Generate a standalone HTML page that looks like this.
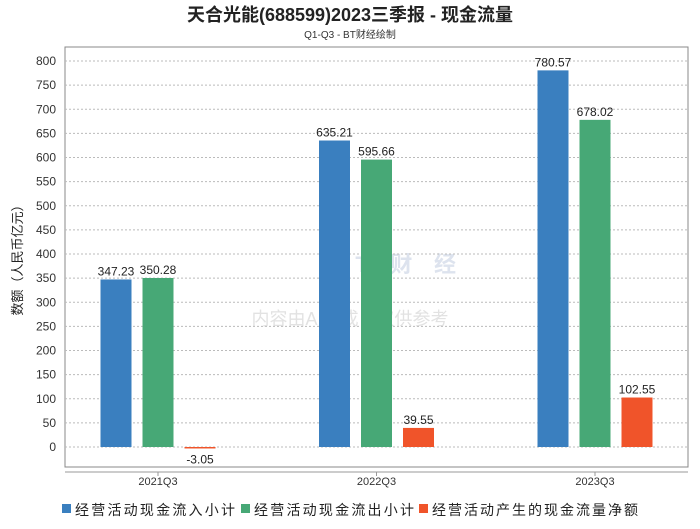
<!DOCTYPE html>
<html><head><meta charset="utf-8"><style>
body{margin:0;background:#fff;font-family:"Liberation Sans","Noto Sans CJK SC",sans-serif}
svg text{font-family:"Liberation Sans","Noto Sans CJK SC",sans-serif}
</style></head><body>
<svg id="c" width="700" height="524">
<text x="350" y="21" font-size="18" font-weight="bold" text-anchor="middle" fill="#222">天合光能(688599)2023三季报 - 现金流量</text>
<text x="350" y="38" font-size="10" text-anchor="middle" fill="#333">Q1-Q3 - BT财经绘制</text>
<text x="318" y="272" font-size="22" font-weight="bold" fill="#dde3ee" textLength="138">BT财经</text>
<text x="350" y="325" font-size="18" text-anchor="middle" fill="#e2e2e2">内容由AI生成，仅供参考</text>
<rect x="65" y="47" width="623" height="420" fill="none" stroke="#888"/>
<line x1="65" y1="472" x2="688" y2="472" stroke="#999"/>
<text transform="translate(22,257) rotate(-90)" font-size="13" text-anchor="middle" fill="#222">数额（人民币亿元）</text>
<g id="grid"></g><g id="bars"></g>
<g font-size="14" fill="#222">
<rect x="62" y="504" width="9" height="9" fill="#3a7fbf"/>
<text x="75" y="515" textLength="160">经营活动现金流入小计</text>
<rect x="241" y="504" width="9" height="9" fill="#47a876"/>
<text x="254" y="515" textLength="160">经营活动现金流出小计</text>
<rect x="419" y="504" width="9" height="9" fill="#f0542a"/>
<text x="432" y="515" textLength="206">经营活动产生的现金流量净额</text>
</g>
</svg>
<script>
const categories=["2021Q3","2022Q3","2023Q3"];
const inflow=[347.23,635.21,780.57];
const outflow=[350.28,595.66,678.02];
const net=[-3.05,39.55,102.55];
const yTicks=[0,50,100,150,200,250,300,350,400,450,500,550,600,650,700,750,800];
const NS="http://www.w3.org/2000/svg";
const y=v=>447-v*(386/800);
const xc=i=>158+i*218.5;
function mk(t,a,p){const e=document.createElementNS(NS,t);for(const k in a)e.setAttribute(k,a[k]);p.appendChild(e);return e;}
const g=document.getElementById('grid'),b=document.getElementById('bars');
yTicks.forEach(t=>{
 const l=mk('line',{x1:65,x2:688,y1:y(t),y2:y(t),stroke:'#bbb','stroke-dasharray':'2,2'},g);
 
 
 const tx=mk('text',{x:56,y:y(t)+4,'font-size':12,'text-anchor':'end',fill:'#333'},g);
 tx.textContent=t;
 
 
});
categories.forEach((c,i)=>{
 const tx=mk('text',{x:xc(i),y:485,'font-size':11,'text-anchor':'middle',fill:'#333'},g);
 tx.textContent=c;
 
 
 const tk=mk('line',{x1:xc(i),x2:xc(i),y1:472,y2:476,stroke:'#999'},g);
 
 
});
const series=[[inflow,'#3a7fbf','inflow'],[outflow,'#47a876','outflow'],[net,'#f0542a','net']];
series.forEach(([arr,col,nm],s)=>{
 arr.forEach((v,i)=>{
  const cx=xc(i)+(s-1)*42;
  const top=Math.min(y(v),y(0)),h=Math.max(Math.abs(y(v)-y(0)),1);
  const r=mk('rect',{x:cx-15.5,y:top,width:31,height:h,fill:col},b);
  
  
  const tx=mk('text',{x:cx,y:v<0?y(v)+15:y(v)-4,'font-size':12,'text-anchor':'middle',fill:'#222'},b);
  tx.textContent=v.toFixed(2);
  
  
 });
});
</script>
</body></html>
